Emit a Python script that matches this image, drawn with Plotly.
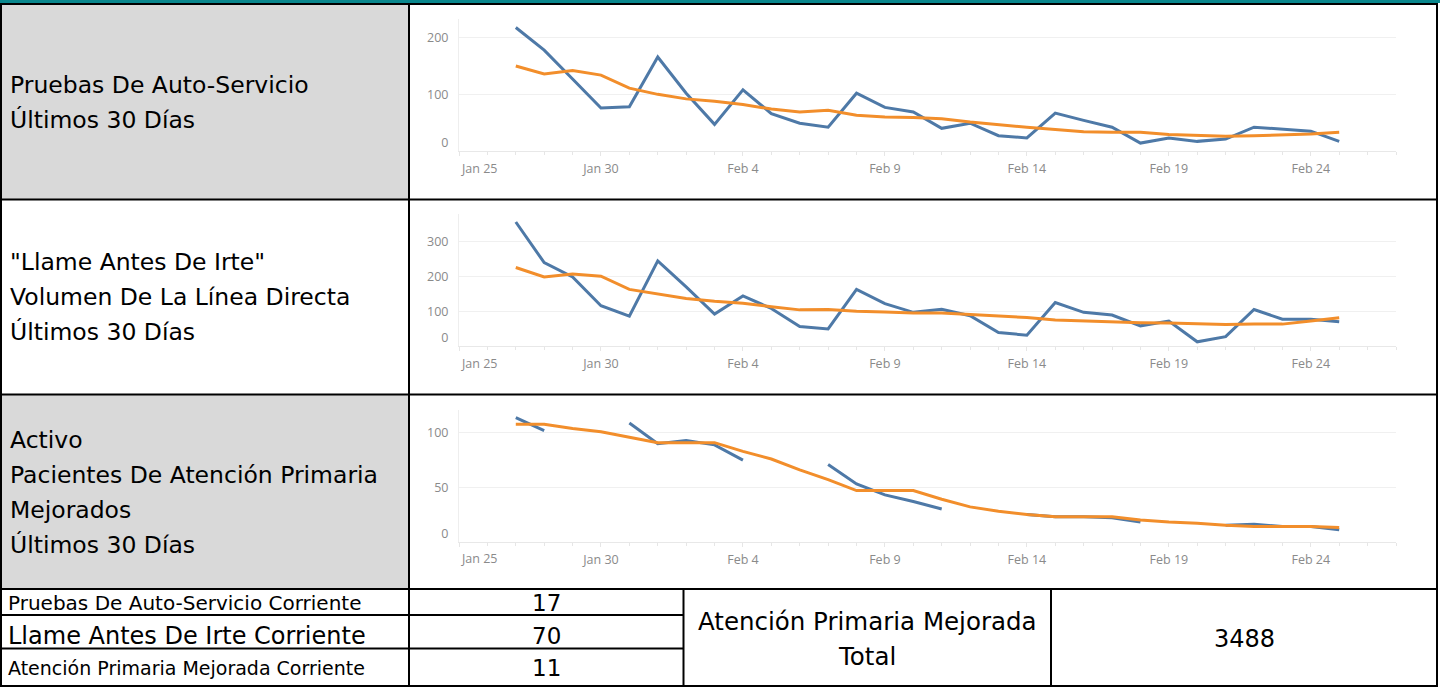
import pandas as pd
import plotly.graph_objects as go

W, H = 1440, 687

# ---------------- data ----------------
dates = pd.date_range("2022-01-27", "2022-02-25").strftime("%Y-%m-%d").tolist()

self_tests = [218, 178, 127, 76, 78, 166, 102, 47, 108, 66, 49, 42, 102, 77, 69,
              40, 49, 27, 23, 67, 54, 42, 14, 23, 17, 21, 42, 39, 35, 17]
self_tests_trend = [150, 136, 142, 134, 111, 100, 92, 88, 82, 74, 69, 72, 63, 60, 59,
                    57, 51, 46, 42, 38, 34, 33, 33, 29, 27, 26, 27, 28, 30, 33]

calls = [357, 240, 199, 116, 86, 245, 170, 92, 144, 108, 56, 49, 163, 122, 97,
         106, 87, 39, 31, 125, 97, 89, 58, 72, 12, 27, 105, 77, 77, 70]
calls_trend = [226, 199, 207, 201, 163, 149, 137, 129, 123, 113, 104, 105, 100, 98, 95,
               95, 91, 85, 82, 75, 72, 69, 67, 66, 63, 62, 63, 63, 72, 81]

primary = [114, 102, None, None, 109, 90, 93, 89, 75, None, None, 71, 53, 43, 37,
           30, None, None, 25, 23, 23, 22, 18, None, None, 15, 16, 14, 14, 11]
primary_trend = [108, 108, 104, 101, 96, 91, 91, 91, 83, 76, 66, 57, 47, 47, 47,
                 39, 32, 28, 25, 23, 23, 23, 20, 18, 17, 15, 14, 14, 14, 13]

row_labels = [
    ["Pruebas De Auto-Servicio", "Últimos 30 Días"],
    ['"Llame Antes De Irte"', "Volumen De La Línea Directa", "Últimos 30 Días"],
    ["Activo", "Pacientes De Atención Primaria", "Mejorados", "Últimos 30 Días"],
]
y_ticks = [[0, 100, 200], [0, 100, 200, 300], [0, 50, 100]]
y_ranges = [[0, 233], [0, 380], [0, 121]]
x_tick_dates = ["2022-01-25", "2022-01-30", "2022-02-04", "2022-02-09",
                "2022-02-14", "2022-02-19", "2022-02-24"]
x_tick_labels = ["Jan 25", "Jan 30", "Feb 4", "Feb 9", "Feb 14", "Feb 19", "Feb 24"]
x_range = ["2022-01-25", "2022-02-27"]

table_labels = ["Pruebas De Auto-Servicio Corriente", "Llame Antes De Irte Corriente",
                "Atención Primaria Mejorada Corriente"]
table_values = ["17", "70", "11"]
total_label = ["Atención Primaria Mejorada", "Total"]
total_value = "3488"

BLUE = "#4e79a7"
ORANGE = "#f28e2b"
TEAL = "#0a878d"
GRAY = "#d9d9d9"
AXIS_TXT = "#8a8a8a"
TXT_FONT = "DejaVu Sans"
AX_FONT = "Open Sans"
AX_SIZE = 12.5


def px(x):
    return x / W


def py(y):
    return 1 - y / H


fig = go.Figure()

series = [(self_tests, self_tests_trend), (calls, calls_trend), (primary, primary_trend)]
plot_boxes = [(19, 151), (214, 346), (410, 541.7)]
x_dom = [px(459), px(1396)]

ann = []
for i, (actual, trend) in enumerate(series):
    n = "" if i == 0 else str(i + 1)
    fig.add_trace(go.Scatter(x=dates, y=actual, mode="lines", connectgaps=False,
                             line=dict(color=BLUE, width=3), xaxis="x" + n, yaxis="y" + n,
                             showlegend=False, hoverinfo="skip"))
    fig.add_trace(go.Scatter(x=dates, y=trend, mode="lines",
                             line=dict(color=ORANGE, width=3), xaxis="x" + n, yaxis="y" + n,
                             showlegend=False, hoverinfo="skip"))
    top, bot = plot_boxes[i]
    yticktext = [("0<br> " if v == 0 else str(v)) for v in y_ticks[i]]
    # first date label is drawn right-aligned to its tick (as in the original)
    xticktext = [""] + x_tick_labels[1:]
    fig.update_layout(**{
        "xaxis" + n: dict(domain=x_dom, anchor="y" + n, type="date", automargin=False,
                          range=x_range, tickvals=x_tick_dates, ticktext=xticktext,
                          ticks="outside", ticklen=4, tickcolor="#e6e6e6",
                          minor=dict(dtick=86400000, ticks="outside", ticklen=3,
                                     tickcolor="#e6e6e6", showgrid=False),
                          showgrid=False, showline=True, linecolor="#e8e8e8", linewidth=1,
                          zeroline=False, ticklabelstandoff=2,
                          tickfont=dict(family=AX_FONT, size=AX_SIZE, color=AXIS_TXT)),
        "yaxis" + n: dict(domain=[py(bot), py(top)], anchor="x" + n, range=y_ranges[i],
                          automargin=False,
                          tickvals=y_ticks[i], ticktext=yticktext,
                          showgrid=True, gridcolor="#f0f0f0", gridwidth=1,
                          showline=True, linecolor="#eeeeee", linewidth=1,
                          zeroline=False, ticks="", ticklabelstandoff=7,
                          tickfont=dict(family=AX_FONT, size=AX_SIZE, color=AXIS_TXT)),
    })
    ann.append(dict(text=x_tick_labels[0], x=x_tick_dates[0], y=0,
                    xref="x" + n, yref="y" + n, xanchor="left", yanchor="middle",
                    yshift=-17, xshift=0, showarrow=False,
                    font=dict(family=AX_FONT, size=AX_SIZE, color=AXIS_TXT)))

shapes = []
shapes.append(dict(type="rect", xref="paper", yref="paper", x0=0, x1=1, y0=py(3), y1=1,
                   fillcolor=TEAL, line=dict(width=0), layer="below"))
for (t, b) in [(4, 199.5), (394.5, 589)]:
    shapes.append(dict(type="rect", xref="paper", yref="paper", x0=px(0), x1=px(409),
                       y0=py(b), y1=py(t), fillcolor=GRAY, line=dict(width=0), layer="below"))


def hline(y, x0, x1):
    shapes.append(dict(type="line", xref="paper", yref="paper", x0=px(x0), x1=px(x1),
                       y0=py(y), y1=py(y), line=dict(color="black", width=2)))


def vline(x, y0, y1):
    shapes.append(dict(type="line", xref="paper", yref="paper", x0=px(x), x1=px(x),
                       y0=py(y0), y1=py(y1), line=dict(color="black", width=2)))


hline(4, 0, 1438)
hline(199.5, 0, 1438)
hline(394.5, 0, 1438)
hline(589, 0, 1438)
hline(615, 0, 684)
hline(648.5, 0, 684)
hline(686, 0, 1438)
vline(1, 3, 687)
vline(409, 3, 687)
vline(683.5, 589, 687)
vline(1051, 589, 687)
vline(1437, 3, 687)

fig.update_layout(shapes=shapes)

row_centers = [102.5, 297, 492]
spacing = 35
for lines, c in zip(row_labels, row_centers):
    k = len(lines)
    for j, t in enumerate(lines):
        yc = c + (j - (k - 1) / 2) * spacing
        ann.append(dict(text=t, x=px(8), y=py(yc), xref="paper", yref="paper",
                        xanchor="left", yanchor="middle", showarrow=False,
                        font=dict(family=TXT_FONT, size=23.5, color="black")))

tab_y = [603, 636, 668]
tab_sizes = [20, 24, 19]
for t, v, yc, fs in zip(table_labels, table_values, tab_y, tab_sizes):
    ann.append(dict(text=t, x=px(6), y=py(yc), xref="paper", yref="paper",
                    xanchor="left", yanchor="middle", showarrow=False,
                    font=dict(family=TXT_FONT, size=fs, color="black")))
    ann.append(dict(text=v, x=px(546), y=py(yc), xref="paper", yref="paper",
                    xanchor="center", yanchor="middle", showarrow=False,
                    font=dict(family=TXT_FONT, size=23, color="black")))
for t, yc in zip(total_label, [621, 656]):
    ann.append(dict(text=t, x=px(867), y=py(yc), xref="paper", yref="paper",
                    xanchor="center", yanchor="middle", showarrow=False,
                    font=dict(family=TXT_FONT, size=24.5, color="black")))
ann.append(dict(text=total_value, x=px(1244), y=py(639), xref="paper", yref="paper",
                xanchor="center", yanchor="middle", showarrow=False,
                font=dict(family=TXT_FONT, size=24, color="black")))

fig.update_layout(annotations=ann, width=W, height=H,
                  margin=dict(l=0, r=0, t=0, b=0, pad=0, autoexpand=False),
                  paper_bgcolor="white", plot_bgcolor="white")

fig.write_html("out.html",
               config={"displayModeBar": False},
               post_script="document.body.style.margin='0px';"
                           "document.documentElement.style.overflow='hidden';")
